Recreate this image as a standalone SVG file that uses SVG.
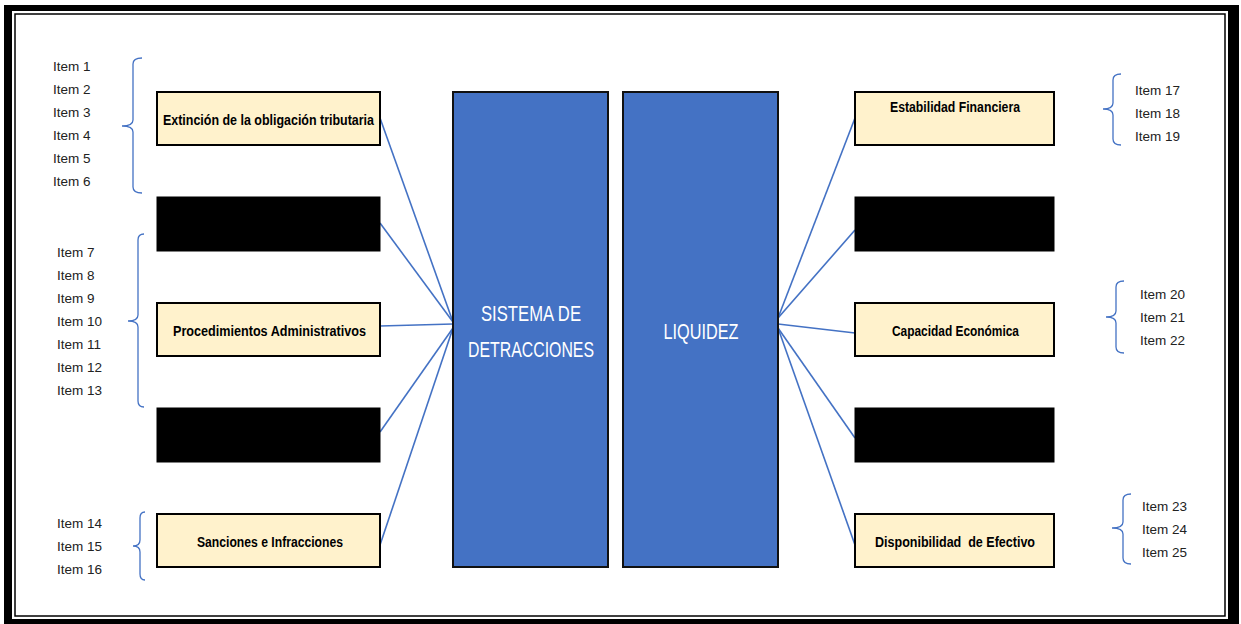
<svg xmlns="http://www.w3.org/2000/svg" width="1241" height="624" viewBox="0 0 1241 624">
<style>
.box{fill:#FFF2CC;stroke:#000;stroke-width:2}
.blk{fill:#000;stroke:#000;stroke-width:1}
.big{fill:#4472C4;stroke:#111;stroke-width:2}
.lbl{font-family:"Liberation Sans",Arial,sans-serif;font-weight:bold;font-size:14px;fill:#000;text-anchor:middle}
.ctr{font-family:"Liberation Sans",Arial,sans-serif;font-size:22px;fill:#fff;text-anchor:middle}
.itm{font-family:"Liberation Sans",Arial,sans-serif;font-size:13.5px;fill:#222}
.con{stroke:#4472C4;stroke-width:1.6;fill:none}
.brc{stroke:#4472C4;stroke-width:1.3;fill:none}
</style>
<rect x="0" y="0" width="1241" height="624" fill="#fff"/>
<g id="frame">
<rect x="4" y="5" width="1235" height="619" fill="#000"/>
<rect x="12" y="11" width="1216" height="608" fill="#fff"/>
<rect x="15" y="14" width="1210" height="602" fill="#fff" stroke="#000" stroke-width="1.5"/>
</g>
<g id="connectors">
<line class="con" x1="380" y1="118" x2="453" y2="322"/>
<line class="con" x1="380" y1="223" x2="453" y2="322"/>
<line class="con" x1="380" y1="326" x2="453" y2="324"/>
<line class="con" x1="380" y1="432" x2="453" y2="328"/>
<line class="con" x1="380" y1="545" x2="453" y2="328"/>
<line class="con" x1="778" y1="318" x2="855" y2="118"/>
<line class="con" x1="778" y1="318" x2="855" y2="230"/>
<line class="con" x1="778" y1="324" x2="855" y2="333"/>
<line class="con" x1="778" y1="328" x2="855" y2="438"/>
<line class="con" x1="778" y1="328" x2="855" y2="545"/>
</g>
<g id="sistema">
<rect class="big" x="453" y="92" width="155" height="475"/>
<text class="ctr" x="531" y="321" textLength="100" lengthAdjust="spacingAndGlyphs">SISTEMA DE</text>
<text class="ctr" x="531" y="357" textLength="126" lengthAdjust="spacingAndGlyphs">DETRACCIONES</text>
</g>
<g id="liquidez">
<rect class="big" x="623" y="92" width="155" height="475"/>
<text class="ctr" x="701" y="339" textLength="75" lengthAdjust="spacingAndGlyphs">LIQUIDEZ</text>
</g>
<g id="extincion">
<rect class="box" x="157" y="92" width="223" height="53"/>
<text class="lbl" x="268.5" y="125" textLength="211" lengthAdjust="spacingAndGlyphs">Extinción de la obligación tributaria</text>
</g>
<g id="left-black-1"><rect class="blk" x="157" y="197" width="223" height="54"/></g>
<g id="procedimientos">
<rect class="box" x="157" y="303" width="223" height="53"/>
<text class="lbl" x="269.5" y="336" textLength="193" lengthAdjust="spacingAndGlyphs">Procedimientos Administrativos</text>
</g>
<g id="left-black-2"><rect class="blk" x="157" y="408" width="223" height="54"/></g>
<g id="sanciones">
<rect class="box" x="157" y="514" width="223" height="53"/>
<text class="lbl" x="270" y="547" textLength="146" lengthAdjust="spacingAndGlyphs">Sanciones e Infracciones</text>
</g>
<g id="estabilidad">
<rect class="box" x="855" y="92" width="199" height="53"/>
<text class="lbl" x="955" y="112" textLength="130" lengthAdjust="spacingAndGlyphs">Estabilidad Financiera</text>
</g>
<g id="right-black-1"><rect class="blk" x="855" y="197" width="199" height="54"/></g>
<g id="capacidad">
<rect class="box" x="855" y="303" width="199" height="53"/>
<text class="lbl" x="955.5" y="336" textLength="127" lengthAdjust="spacingAndGlyphs">Capacidad Económica</text>
</g>
<g id="right-black-2"><rect class="blk" x="855" y="408" width="199" height="54"/></g>
<g id="disponibilidad">
<rect class="box" x="855" y="514" width="199" height="53"/>
<text class="lbl" x="955" y="547" textLength="160" lengthAdjust="spacingAndGlyphs" xml:space="preserve">Disponibilidad  de Efectivo</text>
</g>
<g id="items-1-6">
<path class="brc" d="M142,58 Q133,58 133,64 L133,120 Q133,126 122,126 Q133,126 133,132 L133,187 Q133,193 142,193"/>
<text class="itm" x="53" y="71">Item 1</text>
<text class="itm" x="53" y="94">Item 2</text>
<text class="itm" x="53" y="117">Item 3</text>
<text class="itm" x="53" y="140">Item 4</text>
<text class="itm" x="53" y="163">Item 5</text>
<text class="itm" x="53" y="186">Item 6</text>
</g>
<g id="items-7-13">
<path class="brc" d="M144,234 Q138,234 138,240 L138,315 Q138,321 128,321 Q138,321 138,327 L138,401 Q138,407 144,407"/>
<text class="itm" x="57" y="257">Item 7</text>
<text class="itm" x="57" y="280">Item 8</text>
<text class="itm" x="57" y="303">Item 9</text>
<text class="itm" x="57" y="326">Item 10</text>
<text class="itm" x="57" y="349">Item 11</text>
<text class="itm" x="57" y="372">Item 12</text>
<text class="itm" x="57" y="395">Item 13</text>
</g>
<g id="items-14-16">
<path class="brc" d="M145,512 Q140,512 140,518 L140,540 Q140,546 133,546 Q140,546 140,552 L140,574 Q140,580 145,580"/>
<text class="itm" x="57" y="528">Item 14</text>
<text class="itm" x="57" y="551">Item 15</text>
<text class="itm" x="57" y="574">Item 16</text>
</g>
<g id="items-17-19">
<path class="brc" d="M1121,74 Q1113,74 1113,80 L1113,103 Q1113,109 1103,109 Q1113,109 1113,115 L1113,139 Q1113,145 1121,145"/>
<text class="itm" x="1135" y="95">Item 17</text>
<text class="itm" x="1135" y="118">Item 18</text>
<text class="itm" x="1135" y="141">Item 19</text>
</g>
<g id="items-20-22">
<path class="brc" d="M1124,281 Q1116,281 1116,287 L1116,311 Q1116,317 1106,317 Q1116,317 1116,323 L1116,347 Q1116,353 1124,353"/>
<text class="itm" x="1140" y="299">Item 20</text>
<text class="itm" x="1140" y="322">Item 21</text>
<text class="itm" x="1140" y="345">Item 22</text>
</g>
<g id="items-23-25">
<path class="brc" d="M1131,494 Q1123,494 1123,500 L1123,522 Q1123,528 1112,528 Q1123,528 1123,534 L1123,558 Q1123,564 1131,564"/>
<text class="itm" x="1142" y="511">Item 23</text>
<text class="itm" x="1142" y="534">Item 24</text>
<text class="itm" x="1142" y="557">Item 25</text>
</g>
</svg>
